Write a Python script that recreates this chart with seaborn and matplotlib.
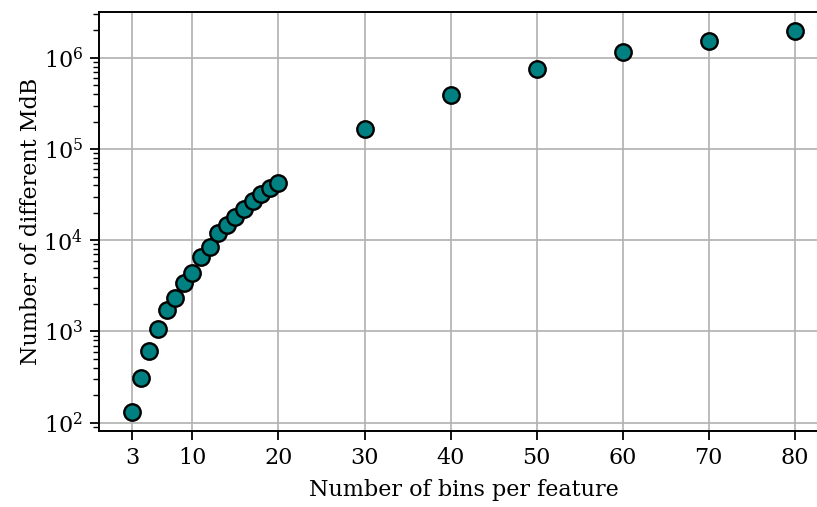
import matplotlib
matplotlib.use("Agg")
import matplotlib.pyplot as plt
import seaborn as sns
import pandas as pd
from matplotlib.ticker import LogLocator

bins = [3, 4, 5, 6, 7, 8, 9, 10, 11, 12, 13, 14, 15, 16, 17, 18, 19, 20,
        30, 40, 50, 60, 70, 80]
n_mdb = [131, 307, 608, 1070, 1700, 2350, 3370, 4420, 6610, 8510, 11900,
         14700, 18200, 22300, 27000, 32000, 37000, 43000,
         164000, 394000, 759000, 1150000, 1550000, 1970000]
xticks = [3, 10, 20, 30, 40, 50, 60, 70, 80]
xlabel = "Number of bins per feature"
ylabel = "Number of different MdB"

df = pd.DataFrame({"bins": bins, "mdb": n_mdb})

sns.set_theme(style="ticks")
plt.rcParams["font.family"] = ["DejaVu Serif"]
plt.rcParams["mathtext.fontset"] = "dejavuserif"
for k in ["text.color", "axes.labelcolor", "xtick.color", "ytick.color"]:
    plt.rcParams[k] = "black"

fig = plt.figure(figsize=(8.17, 5.07), dpi=100)
ax = fig.add_axes([99 / 817, 76 / 507, (828 - 99) / 817, (431 - 12) / 507])

sns.scatterplot(data=df, x="bins", y="mdb", ax=ax, s=140, color="#008080",
                edgecolor="black", linewidth=1.7, zorder=3)
ax.set_yscale("log")
ax.set_xticks(xticks)
ax.set_xticklabels([str(t) for t in xticks])
ax.grid(True, which="major", color="#b0b0b0", linewidth=1.2)
ax.set_axisbelow(True)
ax.yaxis.set_minor_locator(LogLocator(base=10, subs=range(2, 10), numticks=20))
ax.tick_params(axis="both", which="major", labelsize=16, length=6.5, width=1.3,
               color="black", direction="out", pad=5)
ax.tick_params(axis="y", which="minor", length=4, width=1.0, color="black")
for sp in ax.spines.values():
    sp.set_color("black")
    sp.set_linewidth(1.4)
ax.set_xlabel(xlabel, fontsize=16, labelpad=7)
ax.set_ylabel(ylabel, fontsize=16, labelpad=1)
fig.savefig("out.png", dpi=100)
